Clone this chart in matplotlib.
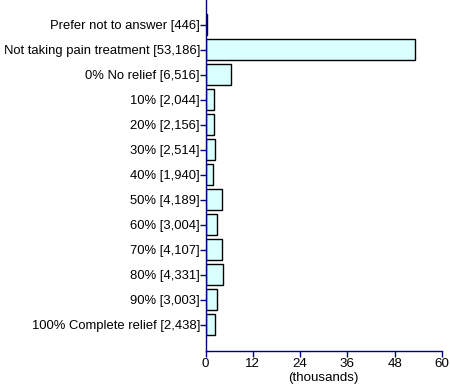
import matplotlib
matplotlib.use("Agg")
import matplotlib.pyplot as plt

categories = ["Prefer not to answer", "Not taking pain treatment", "0% No relief",
              "10%", "20%", "30%", "40%", "50%", "60%", "70%", "80%", "90%",
              "100% Complete relief"]
values = [446, 53186, 6516, 2044, 2156, 2514, 1940, 4189, 3004, 4107, 4331, 3003, 2438]
xticks = [0, 12, 24, 36, 48, 60]

plt.rcParams['font.family'] = ['Liberation Sans', 'DejaVu Sans']
fig = plt.figure(figsize=(4.5, 3.86), dpi=100)
ax = fig.add_axes([205.5/450, 1 - 350.7/386, (442-205.5)/450, 350.7/386])

labels = [f"{c} [{v:,}]" for c, v in zip(categories, values)]
ypos = list(range(len(values)))
ax.barh(ypos, [v/1000 for v in values], height=0.84, color='#d9ffff',
        edgecolor='black', linewidth=1)
ax.set_yticks(ypos)
ax.set_yticklabels(labels, fontsize=9.4)
ax.set_ylim(13.03, -1)
ax.set_xlim(0, 60)
ax.set_xticks(xticks)
ax.set_xticklabels([str(t) for t in xticks], fontsize=9.6)
ax.set_xlabel("(thousands)", fontsize=9.6, labelpad=2)
for s in ['top', 'right']:
    ax.spines[s].set_visible(False)
for s in ['left', 'bottom']:
    ax.spines[s].set_color('#000080')
    ax.spines[s].set_linewidth(1)
ax.tick_params(axis='both', colors='#000080', labelcolor='black', length=4, width=1)
ax.tick_params(axis='y', pad=0)
ax.tick_params(axis='x', pad=1)
fig.savefig("out.png", dpi=100)
